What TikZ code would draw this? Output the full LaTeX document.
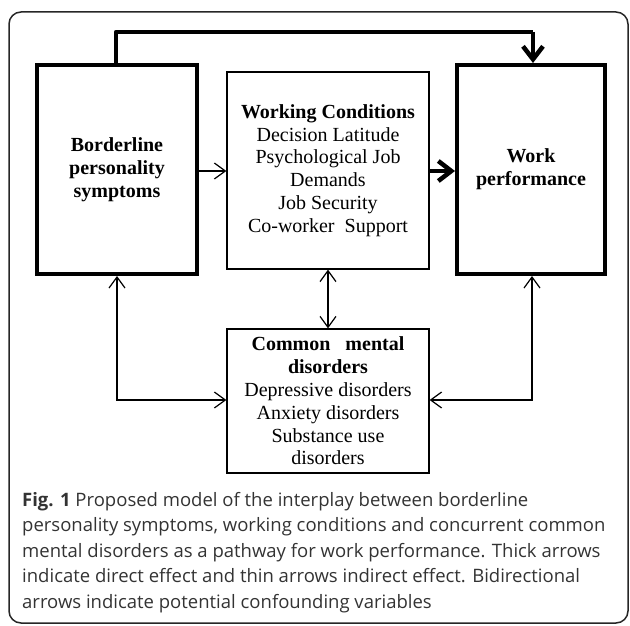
\documentclass[tikz,border=0pt]{standalone}
\usepackage{fontspec}
\setmainfont{Liberation Serif}
\newfontfamily\capfont{Open Sans}
\usetikzlibrary{arrows.meta}
\tikzset{
  thickbox/.style={draw, line width=4pt, inner sep=0pt, align=center, font=\fontsize{20}{23}\selectfont},
  thinbox/.style={draw, line width=1.3pt, inner sep=0pt, align=center, font=\fontsize{20}{22.8}\selectfont},
  thinarrow/.style={line width=1.2pt, -{Straight Barb[length=11pt,width=16pt]}},
  bidir/.style={line width=1.2pt, {Straight Barb[length=11pt,width=16pt]}-{Straight Barb[length=11pt,width=16pt]}},
  thickarrow/.style={line width=4.5pt, -{Straight Barb[length=13pt,width=20pt]}},
  capline/.style={anchor=base west, inner sep=0pt, text=black!80, font=\capfont\fontsize{18.5}{25}\selectfont}
}
\begin{document}
\begin{tikzpicture}[x=1pt, y=-1pt]
\useasboundingbox (0,0) rectangle (630,626);
\draw[line width=1.5pt, rounded corners=12pt, black!85] (9,12) rectangle (628,623);

\node[thickbox, minimum width=160pt, minimum height=209pt] (bpd) at (117,169.5)
  {\textbf{Borderline}\\ \textbf{personality}\\ \textbf{symptoms}};
\node[thickbox, minimum width=148pt, minimum height=209pt] (wp) at (531,169.5)
  {\textbf{Work}\\ \textbf{performance}};
\node[thinbox, minimum width=202pt, minimum height=197pt] (wc) at (328,170.5)
  {\textbf{Working Conditions}\\ Decision Latitude\\ Psychological Job\\ Demands\\ Job Security\\ Co-worker\ \ Support};
\node[thinbox, minimum width=202pt, minimum height=144pt] (cmd) at (328,401)
  {\textbf{Common\ \ \ mental}\\ \textbf{disorders}\\ Depressive disorders\\ Anxiety disorders\\ Substance use\\ disorders};

\coordinate (tl) at (116,32);
\coordinate (tr) at (533,32);
\coordinate (bl) at (117,400);
\coordinate (br) at (532,400);

\draw[line width=4.5pt, line join=round] (bpd.north -| tl) -- (tl) -- (tr);
\draw[thickarrow] (tr) -- (wp.north -| tr);
\draw[thinarrow] (bpd.east |- 0,171) -- (wc.west |- 0,171);
\draw[thickarrow] (wc.east |- 0,171) -- (wp.west |- 0,171);
\draw[bidir] (wc.south) -- (cmd.north);
\draw[bidir] (bpd.south -| bl) -- (bl) -- (cmd.west |- bl);
\draw[bidir] (wp.south -| br) -- (br) -- (cmd.east |- br);

\node[capline] (c1) at (22,506) {\textbf{Fig. 1} Proposed model of the interplay between borderline};
\node[capline] (c2) at (22,531.5) {personality symptoms, working conditions and concurrent common};
\node[capline] (c3) at (22,557) {mental disorders as a pathway for work performance. Thick arrows};
\node[capline] (c4) at (22,582.5) {indicate direct effect and thin arrows indirect effect. Bidirectional};
\node[capline] (c5) at (22,608) {arrows indicate potential confounding variables};
\end{tikzpicture}
\end{document}
